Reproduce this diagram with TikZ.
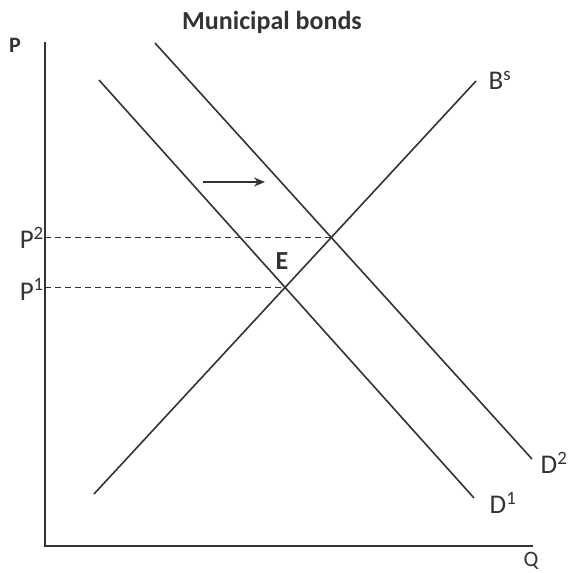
\documentclass[tikz,border=0pt]{standalone}
\usepackage{fontspec}
\setmainfont{Carlito}
\usetikzlibrary{arrows.meta,intersections}
\definecolor{ink}{HTML}{333333}
\tikzset{
  curve/.style={draw=ink,line width=1.6pt},
  axis/.style={draw=ink,line width=2pt},
  guide/.style={draw=ink,line width=1.2pt,dash pattern=on 6pt off 4pt},
  lbl/.style={text=ink,inner sep=0pt,font=\fontsize{27}{27}\selectfont},
  blbl/.style={text=ink,inner sep=0pt,font=\bfseries\fontsize{26}{26}\selectfont},
}
\begin{document}
\begin{tikzpicture}[x=1pt,y=-1pt]
\useasboundingbox (0,0) rectangle (568,573);
% title
\node[blbl] (title) at (272,22) {Municipal bonds};
% axes
\coordinate (ytop) at (45,42);
\coordinate (orig) at (45,546);
\coordinate (xend) at (533,546);
\draw[axis,line join=miter] (ytop) -- (orig) -- (xend);
\node[blbl,font=\bfseries\fontsize{22}{22}\selectfont] (P) at (15,45) {P};
\node[lbl,font=\fontsize{22}{22}\selectfont] (Q) at (531,561) {Q};
% curves
\coordinate (bs1) at (94,494);
\coordinate (bs2) at (476,81);
\coordinate (d1a) at (99,80);
\coordinate (d1b) at (474,498);
\coordinate (d2a) at (155,43);
\coordinate (d2b) at (532,459);
\draw[curve,name path=bs] (bs1) -- (bs2);
\draw[curve,name path=dA] (d1a) -- (d1b);
\draw[curve,name path=dB] (d2a) -- (d2b);
\path[name intersections={of=bs and dA,by=e1}];
\path[name intersections={of=bs and dB,by=e2}];
% price guides
\coordinate (p1ax) at (e1 -| orig);
\coordinate (p2ax) at (e2 -| orig);
\draw[guide] (p1ax) -- (e1);
\draw[guide] (p2ax) -- (e2);
\node[lbl,anchor=east] (P1) at ([xshift=-1pt,yshift=-2pt]p1ax) {P\textsuperscript{1}};
\node[lbl,anchor=east] (P2) at ([xshift=-1pt]p2ax) {P\textsuperscript{2}};
\node[blbl] (E) at (282,261) {E};
% curve labels
\node[lbl] (Bs) at (500,80) {B\textsuperscript{s}};
\node[lbl] (D1) at (503,503) {D\textsuperscript{1}};
\node[lbl] (D2) at (554,463) {D\textsuperscript{2}};
% shift arrow
\coordinate (arA) at (203,182);
\coordinate (arB) at (265,182);
\draw[ink,line width=1.6pt,-{Stealth[length=11pt,width=9pt]}] (arA) -- (arB);
\end{tikzpicture}
\end{document}
